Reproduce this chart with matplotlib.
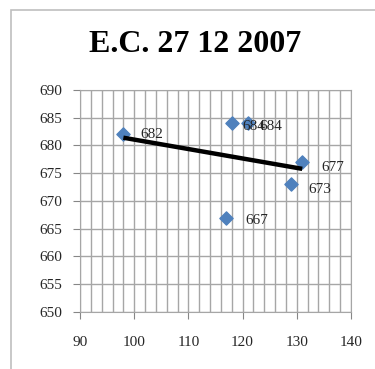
import matplotlib
matplotlib.use("Agg")
import matplotlib.pyplot as plt
import numpy as np
from matplotlib.patches import Rectangle

x_vals = [98, 118, 121, 131, 129, 117]
y_vals = [682, 684, 684, 677, 673, 667]
labels = ["682", "684", "684", "677", "673", "667"]
label_offsets = [(12, 0), (8, -2), (8, -2), (14, -4), (12, -4), (14, -2)]
title = "E.C. 27 12 2007"
x_ticks = [90, 100, 110, 120, 130, 140]
y_ticks = [650, 655, 660, 665, 670, 675, 680, 685, 690]

plt.rcParams['font.family'] = ['Liberation Serif', 'DejaVu Serif']

fig = plt.figure(figsize=(3.75, 3.69), dpi=100)
fig.patches.append(Rectangle((11/375, -0.05), 1.1, 1 - 10/369 + 0.05,
                             transform=fig.transFigure, fill=False,
                             edgecolor='#bfbfbf', linewidth=1.2))

ax = fig.add_axes([80/375, 1 - 312/369, 271/375, 222/369])
ax.set_xlim(90, 140)
ax.set_ylim(650, 690)
ax.set_xticks(x_ticks)
ax.set_yticks(y_ticks)
ax.set_xticks(np.arange(90, 141, 2), minor=True)
ax.grid(True, which='major', axis='y', color='#a6a6a6', linewidth=1)
ax.grid(True, which='both', axis='x', color='#a6a6a6', linewidth=1)
ax.set_axisbelow(True)
ax.tick_params(axis='both', which='major', direction='out', length=5,
               color='#868686', labelsize=11, labelcolor='#262626')
ax.tick_params(axis='x', which='major', pad=12)
ax.tick_params(axis='y', which='major', pad=8)
ax.tick_params(axis='x', which='minor', length=0)
for s in ax.spines.values():
    s.set_color('#a6a6a6')

ax.scatter(x_vals, y_vals, marker='D', s=45, color='#4f81bd', zorder=3)

coef = np.polyfit(x_vals, y_vals, 1)
xl = np.array([min(x_vals), max(x_vals)])
ax.plot(xl, np.polyval(coef, xl), color='black', linewidth=3.2, zorder=4,
        solid_capstyle='butt')

for xv, yv, lab, off in zip(x_vals, y_vals, labels, label_offsets):
    ax.annotate(lab, (xv, yv), xytext=off, textcoords='offset points',
                ha='left', va='center', fontsize=11, color='#262626', zorder=5)

fig.text(195/375, 1 - 45/369, title, ha='center', va='center',
         fontsize=23, fontweight='bold', color='black')

fig.savefig("out.png", dpi=100)
